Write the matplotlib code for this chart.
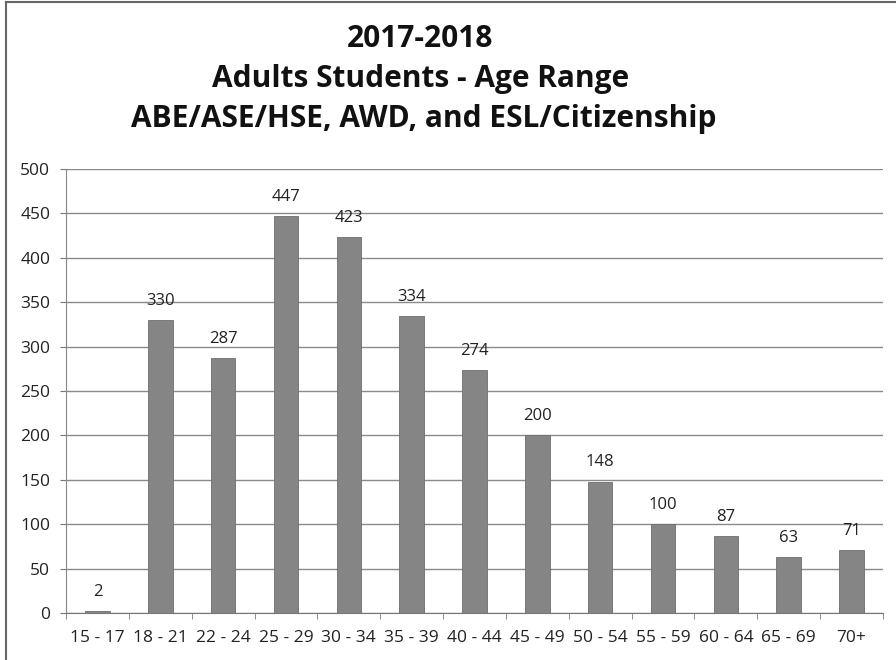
import matplotlib
matplotlib.use("Agg")
import matplotlib.pyplot as plt
from matplotlib.lines import Line2D
import numpy as np

categories = ["15 - 17", "18 - 21", "22 - 24", "25 - 29", "30 - 34", "35 - 39", "40 - 44",
              "45 - 49", "50 - 54", "55 - 59", "60 - 64", "65 - 69", "70+"]
values = [2, 330, 287, 447, 423, 334, 274, 200, 148, 100, 87, 63, 71]
yticks = [0, 50, 100, 150, 200, 250, 300, 350, 400, 450, 500]
title_lines = ["2017-2018", "Adults Students - Age Range", "ABE/ASE/HSE, AWD, and ESL/Citizenship"]

plt.rcParams['font.family'] = ['Open Sans', 'DejaVu Sans']

fig = plt.figure(figsize=(8.96, 6.6), dpi=100)
ax = fig.add_axes([66/896, 1-613/660, (883-66)/896, (613-169)/660])

x = np.arange(len(categories))
ax.bar(x, values, width=0.39, color='#858585', edgecolor='#6e6e6e', linewidth=0.6, zorder=3)
for xi, v in zip(x, values):
    ax.annotate(str(v), (xi, v), xytext=(0, 8), textcoords='offset points',
                ha='center', va='bottom', fontsize=12, color='#222222')

ax.set_xlim(-0.5, len(categories) - 0.5)
ax.set_ylim(0, 500)
ax.set_yticks(yticks)
ax.set_yticklabels([str(t) for t in yticks], fontsize=12.5, color='#222222')
ax.yaxis.grid(True, color='#8a8a8a', linewidth=1.0, zorder=0)
ax.set_xticks(x)
ax.set_xticklabels(categories, fontsize=12.5, color='#222222')
ax.tick_params(axis='x', length=0, pad=12)
ax.set_xticks(np.arange(-0.5, len(categories), 1.0), minor=True)
ax.tick_params(axis='x', which='minor', length=4.5, color='#777777', direction='out')
ax.tick_params(axis='y', length=4.3, color='#777777', direction='out', pad=7)

for s in ['top', 'right']:
    ax.spines[s].set_visible(False)
ax.spines['left'].set_color('#888888')
ax.spines['bottom'].set_color('#777777')

title_x = [420, 421, 424]
title_base = [47, 87, 127]
for line, tx, ty in zip(title_lines, title_x, title_base):
    fig.text(tx / 896, 1 - ty / 660, line, ha='center', va='baseline',
             fontsize=21.5, fontweight='bold', color='#111111')

# outer frame (top and left edges visible in the scan)
fig.add_artist(Line2D([6/896, 896/896], [1 - 2/660, 1 - 2/660], transform=fig.transFigure, color='#666666', linewidth=1.5))
fig.add_artist(Line2D([6/896, 6/896], [0, 1 - 2/660], transform=fig.transFigure, color='#666666', linewidth=1.5))

fig.savefig("out.png", dpi=100)
